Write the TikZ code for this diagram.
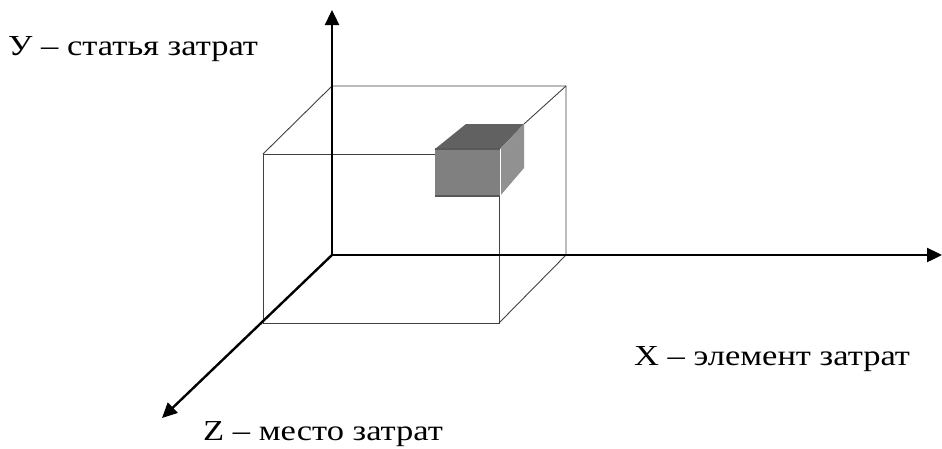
\documentclass[tikz,border=0pt]{standalone}
\usepackage{fontspec}
\setmainfont[FakeStretch=1.19]{Liberation Serif}
\usetikzlibrary{arrows.meta}
\tikzset{
  axis/.style={line width=2.4pt,-{Triangle[length=15pt,width=14pt]}},
  edge/.style={line width=0.9pt,black!75},
  lbl/.style={anchor=base west,inner sep=0pt,font=\fontsize{29}{33}\selectfont}
}
\begin{document}
\begin{tikzpicture}[x=1pt,y=-1pt]
  \useasboundingbox (0,0) rectangle (942,448);
  % axes
  \coordinate (o) at (332,255);
  \coordinate (ytip) at (332,10);
  \coordinate (xtip) at (942,255);
  \coordinate (ztip) at (162,418);
  % outer box
  \coordinate (bt) at (332,86);
  \coordinate (btr) at (566,86);
  \coordinate (bbr) at (566,255);
  \coordinate (ftl) at (263,154);
  \coordinate (fbl) at (263,323);
  \coordinate (fbr) at (499,323);
  % small block
  \coordinate (cfl) at (435,149);
  \coordinate (cfr) at (500,149);
  \coordinate (cbl) at (435,196);
  \coordinate (cbr) at (500,196);
  \coordinate (ctl) at (466,124);
  \coordinate (ctr) at (524,124);
  \coordinate (crb) at (524,168);
  \draw[edge] (ftl) -- (bt) -- (btr) -- (bbr);
  \draw[edge] (ftl) -- (435,154);
  \draw[edge] (ftl) -- (fbl) -- (fbr) -- (499,196);
  \draw[edge] (fbr) -- (bbr);
  \draw[edge] (btr) -- (ctr);
  \fill[black!62] (cfl) -- (ctl) -- (ctr) -- (cfr) -- cycle;
  \fill[black!43] (cfr) -- (ctr) -- (crb) -- (cbr) -- cycle;
  \fill[black!50] (cfl) rectangle (cbr);
  \draw[black!65,line width=1.2pt] (cfl) -- (cfr) (cbl) -- (cbr);
  \draw[white,line width=0.8pt] (cfr) -- (cbr);
  \draw[axis] (o) -- (ytip);
  \draw[axis] (o) -- (xtip);
  \draw[axis] (o) -- (ztip);
  % labels
  \node[lbl] (ylab) at (8,55) {У – статья затрат};
  \node[lbl] (xlab) at (634,365) {X – элемент затрат};
  \node[lbl] (zlab) at (203,440) {Z – место затрат};
\end{tikzpicture}
\end{document}
